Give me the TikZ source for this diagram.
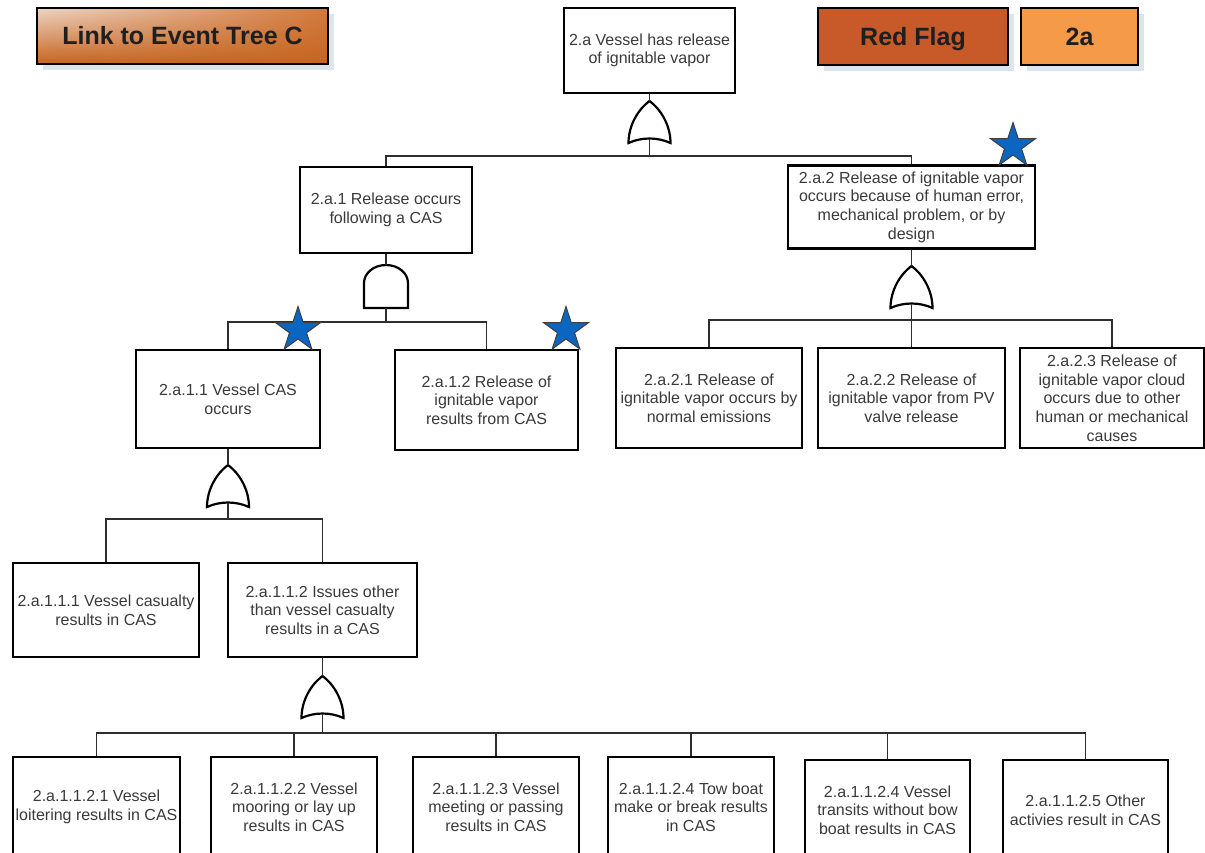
\documentclass[tikz,border=0pt]{standalone}
\usepackage{fontspec}
\setmainfont{Liberation Sans}
\usetikzlibrary{shapes.geometric,shadows,shadings}

\definecolor{txt}{HTML}{3A3A3A}
\definecolor{wirec}{HTML}{2E2E2E}
\definecolor{linkhi}{HTML}{EDD5C4}
\definecolor{linkmid}{HTML}{D27A3E}
\definecolor{linklo}{HTML}{C6641F}
\definecolor{redflag}{HTML}{C75A28}
\definecolor{flagtwo}{HTML}{F49A48}
\definecolor{shadowc}{HTML}{DCE4F0}
\definecolor{starblue}{HTML}{0B66C2}

\tikzset{
  evt/.style={draw,rectangle,line width=2.6pt,fill=white,text=txt,align=center,
    inner sep=0pt,font=\fontsize{16}{18.7}\selectfont},
  tag/.style={draw,rectangle,line width=2.4pt,inner sep=0pt,text=black!88,
    text height=17.9pt,text depth=0pt,
    font=\fontsize{25}{28}\selectfont\bfseries,
    drop shadow={shadow xshift=6pt,shadow yshift=-6pt,fill=shadowc,opacity=1}},
  wire/.style={draw=wirec,line width=1.6pt},
  starry/.style={star,star points=5,star point ratio=2.618,minimum size=47pt,
    inner sep=0pt,fill=starblue,draw=black!75,line width=1pt},
  orgate/.pic={
    \draw[line width=2.2pt,fill=white] (-21,0) .. controls (-21,-18) and (-11,-34) .. (0,-42)
      .. controls (11,-34) and (21,-18) .. (21,0) .. controls (8,-6) and (-8,-6) .. cycle;
    \coordinate (-in) at (0,-42);
    \coordinate (-out) at (0,-4.5);
  },
  andgate/.pic={
    \draw[line width=2.2pt,fill=white] (-22,0) -- (-22,-25)
      arc[start angle=180,end angle=360,x radius=22,y radius=18] -- (22,0) -- cycle;
    \coordinate (-in) at (0,-43);
    \coordinate (-out) at (0,0);
  }
}

\begin{document}
\begin{tikzpicture}[x=1pt,y=-1pt]
\useasboundingbox (0,0) rectangle (1205,852);
\clip (0,0) rectangle (1205,852);
\fill[white] (0,0) rectangle (1205,852);

% flags
\node [tag,minimum width=291pt,minimum height=56pt,upper left=linkhi,upper right=linkmid,
  lower left=linklo,lower right=linklo] (link) at (182.5,36) {Link to Event Tree C};
\node [tag,fill=redflag,minimum width=190pt,minimum height=57pt] (red) at (913,36.5) {Red Flag};
\node [tag,fill=flagtwo,minimum width=117pt,minimum height=57pt] (tag) at (1079.5,36.5) {2a};

% top event
\node [evt,minimum width=171pt,minimum height=85pt] (top) at (649.5,50.5) {2.a Vessel has release\\of ignitable vapor};

\node [evt,minimum width=172pt,minimum height=86pt] (a1) at (386,210) {2.a.1 Release occurs\\following a CAS};
\node [evt,minimum width=247pt,minimum height=83pt] (a2) at (911.5,207) {2.a.2 Release of ignitable vapor\\occurs because of human error,\\mechanical problem, or by\\design};

\node [evt,minimum width=184pt,minimum height=98pt] (a11) at (228,399) {2.a.1.1 Vessel CAS\\occurs};
\node [evt,minimum width=183pt,minimum height=100pt] (a12) at (486.5,400) {2.a.1.2 Release of\\ignitable vapor\\results from CAS};

\node [evt,minimum width=186pt,minimum height=100pt] (a21) at (709,398) {2.a.2.1 Release of\\ignitable vapor occurs by\\normal emissions};
\node [evt,minimum width=187pt,minimum height=100pt] (a22) at (911.5,398) {2.a.2.2 Release of\\ignitable vapor from PV\\valve release};
\node [evt,minimum width=184pt,minimum height=100pt] (a23) at (1112,398) {2.a.2.3 Release of\\ignitable vapor cloud\\occurs due to other\\human or mechanical\\causes};

\node [evt,minimum width=186pt,minimum height=94pt] (a111) at (106,610) {2.a.1.1.1 Vessel casualty\\results in CAS};
\node [evt,minimum width=189pt,minimum height=94pt] (a112) at (322.5,610) {2.a.1.1.2 Issues other\\than vessel casualty\\results in a CAS};

\node [evt,minimum width=167pt,minimum height=100pt] (b1) at (96.5,807) {2.a.1.1.2.1 Vessel\\loitering results in CAS};
\node [evt,minimum width=166pt,minimum height=100pt] (b2) at (294,807) {2.a.1.1.2.2 Vessel\\mooring or lay up\\results in CAS};
\node [evt,minimum width=166pt,minimum height=100pt] (b3) at (496,807) {2.a.1.1.2.3 Vessel\\meeting or passing\\results in CAS};
\node [evt,minimum width=166pt,minimum height=100pt] (b4) at (691,807) {2.a.1.1.2.4 Tow boat\\make or break results\\in CAS};
\node [evt,minimum width=165pt,minimum height=100pt] (b5) at (887.5,810) {2.a.1.1.2.4 Vessel\\transits without bow\\boat results in CAS};
\node [evt,minimum width=165pt,minimum height=100pt] (b6) at (1085.5,810) {2.a.1.1.2.5 Other\\activies result in CAS};

% gates
\pic (g0) at (649.5,143) {orgate};
\pic (g1) at (386,308) {andgate};
\pic (g2) at (911.5,308) {orgate};
\pic (g11) at (228,507) {orgate};
\pic (g112) at (322.5,718) {orgate};

\coordinate (j0) at (649.5,156);
\coordinate (j1) at (386,322);
\coordinate (j2) at (911.5,320);
\coordinate (j11) at (228,519);
\coordinate (j112) at (322.5,733);

\draw[wire] (top.south) -- (g0-in);
\draw[wire] (g0-out) -- (j0);
\draw[wire] (j0) -| (a1.north);
\draw[wire] (j0) -| (a2.north);

\draw[wire] (a1.south) -- (g1-in);
\draw[wire] (g1-out) -- (j1);
\draw[wire] (j1) -| (a11.north);
\draw[wire] (j1) -| (a12.north);

\draw[wire] (a2.south) -- (g2-in);
\draw[wire] (g2-out) -- (j2);
\draw[wire] (j2) -| (a21.north);
\draw[wire] (j2) -- (a22.north);
\draw[wire] (j2) -| (a23.north);

\draw[wire] (a11.south) -- (g11-in);
\draw[wire] (g11-out) -- (j11);
\draw[wire] (j11) -| (a111.north);
\draw[wire] (j11) -| (a112.north);

\draw[wire] (a112.south) -- (g112-in);
\draw[wire] (g112-out) -- (j112);
\draw[wire] (j112) -| (b1.north);
\draw[wire] (j112) -| (b2.north);
\draw[wire] (j112) -| (b3.north);
\draw[wire] (j112) -| (b4.north);
\draw[wire] (j112) -| (b5.north);
\draw[wire] (j112) -| (b6.north);

% stars
\node [starry] (s1) at (298,330) {};
\node [starry] (s2) at (566,330) {};
\node [starry] (s3) at (1013,146) {};
\end{tikzpicture}
\end{document}
